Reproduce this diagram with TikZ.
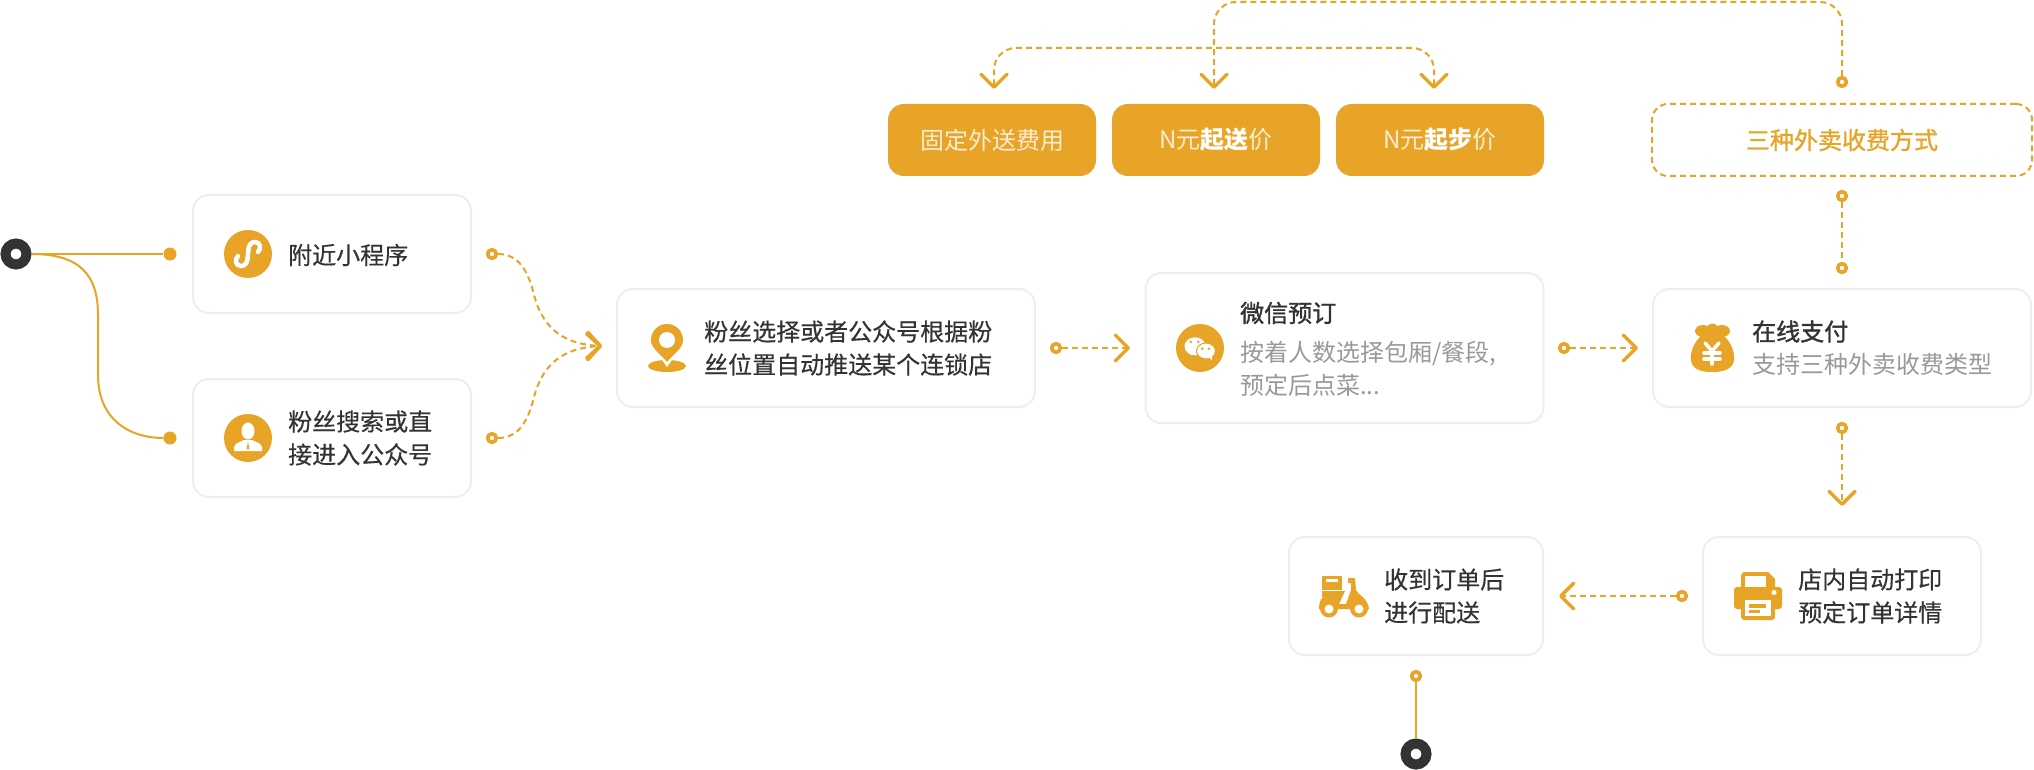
\documentclass[tikz,border=0pt]{standalone}
\usepackage{fontspec}
\setmainfont{Noto Sans CJK SC}
\newfontfamily\midfont{Noto Sans CJK SC}[FakeBold=1.3]
\newfontfamily\capfont{Noto Sans CJK SC}[FakeBold=0.35]
\usetikzlibrary{arrows.meta, positioning, calc}
\definecolor{mainorange}{RGB}{231,164,39}
\definecolor{darkink}{RGB}{51,51,51}
\definecolor{greyink}{RGB}{153,153,153}
\definecolor{boxline}{RGB}{238,238,238}
\newcommand{\greytext}[1]{\textcolor{greyink}{\normalfont #1}}
\tikzset{
  barb/.tip={Straight Barb[length=13pt,width=26pt,line width=3.5pt,round]},
  flowbox/.style={draw=boxline, line width=2pt, fill=white, rounded corners=16pt, inner sep=0pt},
  paybox/.style={fill=mainorange, rounded corners=16pt, inner sep=0pt, minimum width=208pt, minimum height=72pt, text=white!80!mainorange, font=\fontsize{24}{32}\selectfont},
  dashbox/.style={draw=mainorange, line width=2pt, dash pattern=on 6pt off 4pt, rounded corners=16pt, inner sep=0pt, text=mainorange, font=\fontsize{24}{32}\selectfont\midfont},
  caption/.style={anchor=west, align=left, inner sep=0pt, text=darkink, font=\fontsize{24}{33}\selectfont\capfont},
  filldot/.style={circle, fill=mainorange, inner sep=0pt, minimum size=13pt},
  holedot/.style={circle, draw=mainorange, line width=3.6pt, fill=white, inner sep=0pt, minimum size=8.6pt},
  endpoint/.style={circle, draw=darkink, line width=10pt, fill=white, inner sep=0pt, minimum size=21pt},
  wire/.style={draw=mainorange, line width=2pt},
  dashwire/.style={draw=mainorange, line width=2pt, dash pattern=on 6pt off 4pt},
}
\begin{document}
\begin{tikzpicture}[x=1pt, y=-1pt]
  \useasboundingbox (0,0) rectangle (2034,770);

  % boxes
  \node[flowbox, minimum width=278pt, minimum height=118pt] (mini) at (332,254) {};
  \node[flowbox, minimum width=278pt, minimum height=118pt] (fans) at (332,438) {};
  \node[flowbox, minimum width=418pt, minimum height=118pt] (push) at (826,348) {};
  \node[flowbox, minimum width=398pt, minimum height=150pt] (book) at (1344.5,348) {};
  \node[flowbox, minimum width=378pt, minimum height=118pt] (pay) at (1842,348) {};
  \node[flowbox, minimum width=278pt, minimum height=118pt] (print) at (1842,596) {};
  \node[flowbox, minimum width=254pt, minimum height=118pt] (deliver) at (1416,596) {};

  \node[paybox] (fixed) at (992,140) {固定外送费用};
  \node[paybox] (send) at (1216,140) {N元\textcolor{white}{\textbf{起送}}价};
  \node[paybox] (start) at (1440,140) {N元\textcolor{white}{\textbf{起步}}价};
  \node[dashbox, minimum width=380pt, minimum height=72pt] (kinds) at (1842,140) {三种外卖收费方式};

  % captions
  \node[caption] (minitext) at (288,255) {附近小程序};
  \node[caption] (fanstext) at (288,438) {粉丝搜索或直\\接进入公众号};
  \node[caption] (pushtext) at (704,348) {粉丝选择或者公众号根据粉\\丝位置自动推送某个连锁店};
  \node[caption] (booktext) at (1240,349) {{\midfont 微信预订}\\[6pt]\greytext{按着人数选择包厢/餐段,}\\\greytext{预定后点菜...}};
  \node[caption] (paytext) at (1752,348) {{\midfont 在线支付}\\\greytext{支持三种外卖收费类型}};
  \node[caption] (printtext) at (1798,596) {店内自动打印\\预定订单详情};
  \node[caption] (delivertext) at (1384,596) {收到订单后\\进行配送};

  % points
  \node[endpoint] (begin) at (16,254) {};
  \node[endpoint] (finish) at (1416,754) {};
  \node[filldot] (minidot) at (170,254) {};
  \node[filldot] (fansdot) at (170,438) {};
  \node[holedot] (miniout) at (492,254) {};
  \node[holedot] (fansout) at (492,438) {};
  \node[holedot] (pushout) at (1056,348) {};
  \node[holedot] (bookout) at (1564,348) {};
  \node[holedot] (kindsup) at (1842,82) {};
  \node[holedot] (kindsdown) at (1842,196) {};
  \node[holedot] (payup) at (1842,268) {};
  \node[holedot] (paydown) at (1842,428) {};
  \node[holedot] (printout) at (1682,596) {};
  \node[holedot] (deliverout) at (1416,676) {};
  \coordinate (mergetip) at (602,346);
  \coordinate (booktip) at (1130,348);
  \coordinate (paytip) at (1638,348);
  \coordinate (printtip) at (1842,506);
  \coordinate (delivertip) at (1559,596);
  \coordinate (fixedtip) at (994,89);
  \coordinate (sendtip) at (1214,89);
  \coordinate (starttip) at (1434,89);

  % connectors
  \draw[wire] (begin) -- (minidot);
  \draw[wire] (begin.east) .. controls (80,254) and (98,275) .. (98,315) -- (98,375) .. controls (98,420) and (130,438) .. (fansdot.west);
  \draw[wire] (deliverout) -- (finish);
  \draw[dashwire, -barb] (miniout.east) .. controls (518,254) and (528,270) .. (534,295) .. controls (542,325) and (560,344) .. (mergetip);
  \draw[dashwire, -barb] (fansout.east) .. controls (518,438) and (528,422) .. (534,397) .. controls (542,367) and (560,348) .. (mergetip);
  \draw[dashwire, -barb] (pushout) -- (booktip);
  \draw[dashwire, -barb] (bookout) -- (paytip);
  \draw[dashwire, -barb] (paydown) -- (printtip);
  \draw[dashwire, -barb] (printout) -- (delivertip);
  \draw[dashwire] (kindsdown) -- (payup);
  \draw[dashwire, -barb, rounded corners=22pt] (kindsup) -- (1842,2) -- (1214,2) -- (sendtip);
  \draw[dashwire, barb-barb, rounded corners=22pt] (fixedtip) -- (994,48) -- (1434,48) -- (starttip);

  % icons
  \fill[mainorange] (248,254) circle (24);
  \draw[white, line width=4.5pt, line cap=round] (238,256) .. controls (234,260) and (236,266) .. (241,266) .. controls (245,266) and (247,263) .. (247.5,259) -- (248.5,249) .. controls (249,245) and (251,242) .. (255,242) .. controls (260,242) and (262,248) .. (258,252);

  \fill[mainorange] (248,438) circle (24);
  \fill[white] (248,431) ellipse (6.5 and 8.5);
  \fill[white] (234,451) -- (234,447) .. controls (235,443) and (240,442) .. (244,440) -- (252,440) .. controls (256,442) and (261,443) .. (262,447) -- (262,451) -- cycle;
  \fill[mainorange] (248,442) -- (249.5,449) -- (246.5,449) -- cycle;

  \fill[mainorange] (667,366) ellipse (19 and 6);
  \fill[white] (648,340) arc (180:360:19) -- (667,367) -- cycle;
  \fill[mainorange] (651,340) arc (180:360:16) .. controls (683,349) and (673,354) .. (667,362) .. controls (661,354) and (651,349) .. (651,340) -- cycle;
  \fill[white] (667,340) circle (8);

  \fill[mainorange] (1200,348) circle (24);
  \fill[white] (1195,346.3) ellipse (10.5 and 9);
  \fill[white] (1189,350) -- (1190,355) -- (1196,352) -- cycle;
  \fill[white, draw=mainorange, line width=1pt] (1206,351) ellipse (9.5 and 8);
  \fill[white] (1208,357) -- (1212,360) -- (1212,354) -- cycle;
  \foreach \dotx/\doty in {1190.7/342, 1198.3/342, 1202.3/348.7, 1209/348.7} {
    \fill[mainorange] (\dotx,\doty) circle (1.4);
  }

  \fill[mainorange] (1703,331) ellipse (8 and 6);
  \fill[mainorange] (1722,331) ellipse (8 and 6);
  \fill[mainorange] (1712.5,330) ellipse (6 and 6.5);
  \fill[mainorange] (1702,335) .. controls (1694,342) and (1690,352) .. (1691,360) .. controls (1692,370) and (1702,372) .. (1712,372) .. controls (1722,372) and (1733,370) .. (1734,360) .. controls (1735,352) and (1731,342) .. (1723,335) -- cycle;
  \draw[white, line width=3.5pt, line cap=round] (1705,343) -- (1712,351) -- (1719,343);
  \draw[white, line width=3.5pt, line cap=round] (1704,353) -- (1720,353) (1704,359) -- (1720,359) (1712,351) -- (1712,364);

  \fill[mainorange] (1741,587) -- (1741,576) .. controls (1741,573) and (1743,572) .. (1745,572) -- (1768,572) -- (1775,579) -- (1775,587) -- cycle;
  \fill[white] (1745,576) rectangle (1766,587);
  \fill[mainorange, rounded corners=3pt] (1734,587) rectangle (1782,609);
  \fill[mainorange, rounded corners=3pt] (1741,597) rectangle (1775,620);
  \fill[white] (1745,600) rectangle (1771,616);
  \fill[mainorange] (1749,604) rectangle (1766,607.5);
  \fill[mainorange] (1749,610) rectangle (1760,613);
  \fill[white] (1774,592.5) circle (2.5);

  \fill[mainorange] (1322,576) rectangle (1342,590);
  \fill[white] (1326,579) rectangle (1338,581.5);
  \fill[mainorange] (1322,591) -- (1345,591) -- (1339,604) -- (1346,604) -- (1351,590) -- (1351,583) -- (1348,583) -- (1348,578) -- (1355,578) -- (1356,590) .. controls (1358,595) and (1368,598) .. (1369,609) -- (1319,609) .. controls (1319,604) and (1320,598) .. (1324,597) -- (1322,597) -- cycle;
  \fill[mainorange] (1329,608.5) circle (9);
  \fill[mainorange] (1359,608.5) circle (9);
  \fill[white] (1329,609) circle (4.5);
  \fill[white] (1359,609) circle (4.5);
\end{tikzpicture}
\end{document}
